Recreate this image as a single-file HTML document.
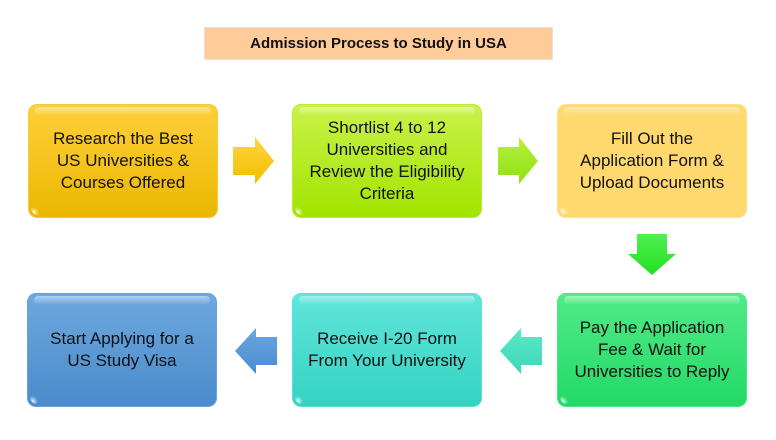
<!DOCTYPE html>
<html><head><meta charset="utf-8"><style>
html,body{margin:0;padding:0;background:#fff;}
body{width:776px;height:440px;position:relative;overflow:hidden;font-family:"Liberation Sans",sans-serif;}
.title{position:absolute;left:204px;top:27px;width:349px;height:33px;background:#ffcc99;border:1px solid #e6e0dc;box-sizing:border-box;text-align:center;line-height:32px;font-weight:bold;font-size:15px;color:#111;}
.box{position:absolute;width:190px;height:114px;border-radius:9px;box-sizing:border-box;display:flex;align-items:center;justify-content:center;text-align:center;font-size:17px;line-height:22px;color:#111;overflow:hidden;}
.box::before{content:"";position:absolute;left:6px;right:6px;top:2px;height:8px;border-radius:6px;background:linear-gradient(rgba(255,255,255,0.45),rgba(255,255,255,0.05));}
.box::after{content:"";position:absolute;left:2px;bottom:2px;width:8px;height:8px;border-radius:0 0 0 7px;background:radial-gradient(circle at 30% 70%,rgba(255,255,255,0.9),rgba(255,255,255,0) 70%);}
.box span{position:relative;z-index:1;}
.b1{left:28px;top:104px;background:linear-gradient(#ffcf3a,#ebb800);border:1px solid #f5c940;}
.b2{left:292px;top:104px;background:linear-gradient(#c9f24a,#a2e400);border:1px solid #b8ec30;}
.b3{left:557px;top:104px;background:#ffd86e;border:1px solid #ffe08a;}
.b4{left:27px;top:293px;background:linear-gradient(#6ea8de,#4a8bcc);border:1px solid #6aa2d8;}
.b5{left:292px;top:293px;background:linear-gradient(#60e6da,#35d2c2);border:1px solid #58e2d4;}
.b6{left:557px;top:293px;background:linear-gradient(#52ea88,#22da66);border:1px solid #48e680;}
svg{position:absolute;left:0;top:0;}
</style></head><body>
<div class="title">Admission Process to Study in USA</div>

<div class="box b1"><span>Research the Best<br>US Universities &amp;<br>Courses Offered</span></div>
<div class="box b2"><span>Shortlist 4 to 12<br>Universities and<br>Review the Eligibility<br>Criteria</span></div>
<div class="box b3"><span>Fill Out the<br>Application Form &amp;<br>Upload Documents</span></div>
<div class="box b4"><span>Start Applying for a<br>US Study Visa</span></div>
<div class="box b5"><span>Receive I-20 Form<br>From Your University</span></div>
<div class="box b6"><span>Pay the Application<br>Fee &amp; Wait for<br>Universities to Reply</span></div>

<svg width="776" height="440" viewBox="0 0 776 440">
<defs>
<linearGradient id="ga1" x1="0" y1="0" x2="0" y2="1"><stop offset="0" stop-color="#ffd640"/><stop offset="1" stop-color="#f2bc00"/></linearGradient>
<linearGradient id="ga2" x1="0" y1="0" x2="0" y2="1"><stop offset="0" stop-color="#b6f040"/><stop offset="1" stop-color="#8ee010"/></linearGradient>
<linearGradient id="ga3" x1="0" y1="0" x2="0" y2="1"><stop offset="0" stop-color="#50f050"/><stop offset="1" stop-color="#22e022"/></linearGradient>
<linearGradient id="ga4" x1="0" y1="0" x2="0" y2="1"><stop offset="0" stop-color="#5ee8c8"/><stop offset="1" stop-color="#3ad8b8"/></linearGradient>
<linearGradient id="ga5" x1="0" y1="0" x2="0" y2="1"><stop offset="0" stop-color="#6aa6e0"/><stop offset="1" stop-color="#4a8cd0"/></linearGradient>
</defs>
<polygon points="233,147 255,147 255,137 274,161 255,184 255,175 233,175" fill="url(#ga1)"/>
<polygon points="498,147 519,147 519,137 538,161 519,184 519,175 498,175" fill="url(#ga2)"/>
<polygon points="637,234 667,234 667,254 676,254 652,275 628,254 637,254" fill="url(#ga3)"/>
<polygon points="542,337 521,337 521,328 500,351 521,374 521,365 542,365" fill="url(#ga4)"/>
<polygon points="277,337 256,337 256,328 235,351 256,374 256,365 277,365" fill="url(#ga5)"/>
</svg>
</body></html>
